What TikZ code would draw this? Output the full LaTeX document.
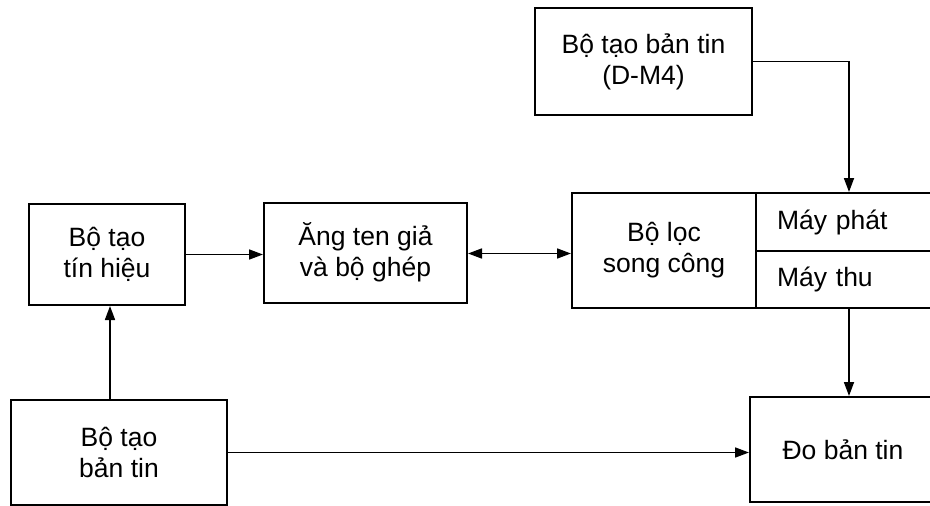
\documentclass[tikz,border=0pt]{standalone}
\usepackage{fontspec}
\setmainfont{Liberation Sans}
\usetikzlibrary{arrows.meta}

\begin{document}
\begin{tikzpicture}[
  x=1pt, y=-1pt,
  every node/.style={font=\fontsize{26.5pt}{31pt}\selectfont},
  blk/.style={draw, line width=2pt, align=center, inner sep=0pt},
  sidebox/.style={draw, line width=2pt, align=left, inner ysep=0pt,
    inner xsep=21pt, text width=144pt, minimum width=186pt},
  tip/.tip={Triangle[length=14pt,width=10pt]},
  arr/.style={line width=1.7pt, -tip},
  darr/.style={line width=1.7pt, tip-tip}
]
\useasboundingbox (0,0) rectangle (930,506);
\clip (0,0) rectangle (930,506);

% blocks
\node[blk, minimum width=217pt, minimum height=107pt] (dm4) at (643.5,61.5)
  {Bộ tạo bản tin\\(D-M4)};
\node[blk, minimum width=184pt, minimum height=115pt] (loc) at (664,250.5)
  {Bộ lọc\\song công};
\node[sidebox, minimum height=58pt] (tx) at (849,222) {Máy phát};
\node[sidebox, minimum height=57pt] (rx) at (849,279.5) {Máy thu};
\node[blk, minimum width=156pt, minimum height=101pt] (sig) at (107,254.5)
  {Bộ tạo\\tín hiệu};
\node[blk, minimum width=203pt, minimum height=100pt] (ant) at (365.5,252.5)
  {Ăng ten giả\\và bộ ghép};
\node[blk, minimum width=216pt, minimum height=105pt] (gen) at (119,452.5)
  {Bộ tạo\\bản tin};
\node[blk, minimum width=186pt, minimum height=105pt] (meas) at (843,449.5)
  {Đo bản tin};

% connectors
\draw[arr] (dm4.east) -| (tx.north);
\draw[arr] (sig.east) -- (sig.east -| ant.west);
\draw[darr] ([yshift=-1pt]ant.east) -- ([yshift=-1pt]ant.east -| loc.west);
\draw[arr] (rx.south) -- (rx.south |- meas.north);
\draw[arr] ([xshift=-9pt]gen.north) -- ([xshift=-9pt]gen.north |- sig.south);
\draw[arr] (gen.east) -- (gen.east -| meas.west);
\end{tikzpicture}
\end{document}
